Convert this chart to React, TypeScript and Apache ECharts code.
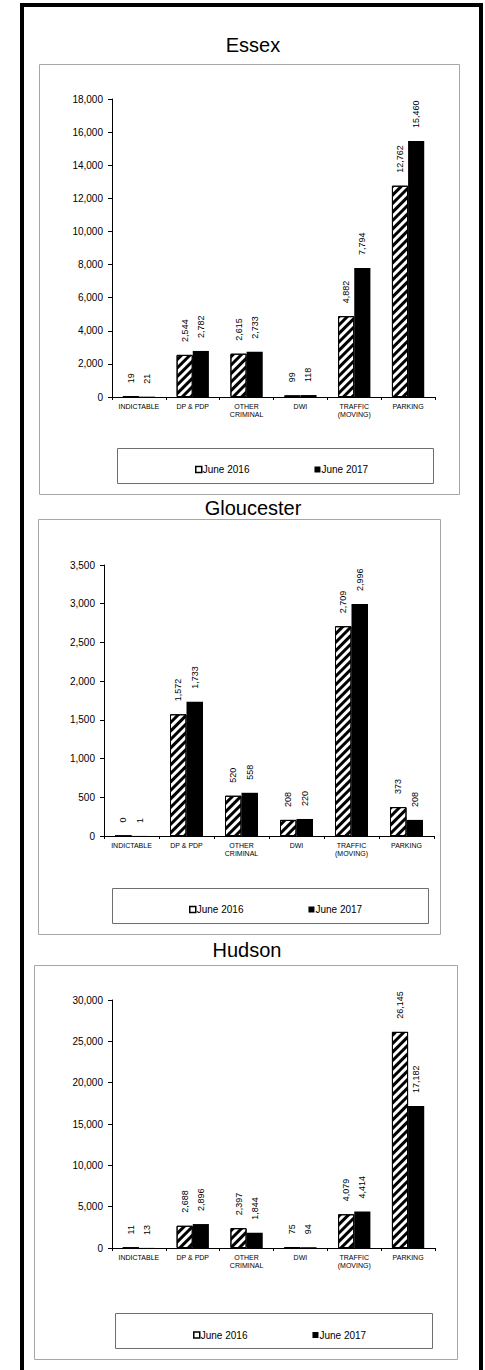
import React, { useEffect, useRef } from "react";
import * as echarts from "echarts";

const categories = ["INDICTABLE", "DP & PDP", "OTHER\nCRIMINAL", "DWI", "TRAFFIC\n(MOVING)", "PARKING"];
const seriesNames = ["June 2016", "June 2017"];

const essex2016 = [19, 2544, 2615, 99, 4882, 12762];
const essex2017 = [21, 2782, 2733, 118, 7794, 15460];
const gloucester2016 = [0, 1572, 520, 208, 2709, 373];
const gloucester2017 = [1, 1733, 558, 220, 2996, 208];
const hudson2016 = [11, 2688, 2397, 75, 4079, 26145];
const hudson2017 = [13, 2896, 1844, 94, 4414, 17182];

const counties = ["Essex", "Gloucester", "Hudson"];
const yMax = [18000, 3500, 30000];
const yInterval = [2000, 500, 5000];

const FONT = "'Liberation Sans', Arial, sans-serif";

const layout = [
  { title: [253, 45], panel: [39, 64, 420, 430], grid: [112, 99, 323, 298], legendBox: [117, 448, 316, 35], legend: [190, 459.5] },
  { title: [253, 508], panel: [38, 519, 402, 415], grid: [104, 565, 330, 271], legendBox: [112, 888, 316, 35], legend: [184, 899.5] },
  { title: [247, 950], panel: [34, 965, 423, 394], grid: [112, 1000, 323, 248], legendBox: [115, 1313, 317, 35], legend: [188, 1325] },
];

const data2016 = [essex2016, gloucester2016, hudson2016];
const data2017 = [essex2017, gloucester2017, hudson2017];

const fmt = (v: number) => v.toLocaleString("en-US");

export default function App() {
  const ref = useRef<HTMLDivElement>(null);
  useEffect(() => {
    if (!ref.current) return;
    const chart = echarts.init(ref.current, undefined, { renderer: "svg" });
    const hatch = {
      symbol: "rect",
      symbolSize: 1,
      dashArrayX: [1, 0],
      dashArrayY: [3, 3],
      rotation: -Math.PI / 4,
      color: "#000",
    };
    const grids: any[] = [];
    const xAxes: any[] = [];
    const yAxes: any[] = [];
    const series: any[] = [];
    const legends: any[] = [];
    const graphics: any[] = [];

    // outer frame
    graphics.push({ type: "line", shape: { x1: 20, y1: 5, x2: 483, y2: 5 }, style: { stroke: "#000", lineWidth: 4 } });
    graphics.push({ type: "line", shape: { x1: 22, y1: 3, x2: 22, y2: 1370 }, style: { stroke: "#000", lineWidth: 4 } });
    graphics.push({ type: "line", shape: { x1: 481, y1: 3, x2: 481, y2: 1370 }, style: { stroke: "#000", lineWidth: 4 } });

    layout.forEach((L, i) => {
      graphics.push({
        type: "rect",
        shape: { x: L.panel[0] + 0.5, y: L.panel[1] + 0.5, width: L.panel[2], height: L.panel[3] },
        style: { fill: "none", stroke: "#a6a6a6", lineWidth: 1 },
      });
      graphics.push({
        type: "rect",
        shape: { x: L.legendBox[0] + 0.5, y: L.legendBox[1] + 0.5, width: L.legendBox[2], height: L.legendBox[3] },
        style: { fill: "none", stroke: "#6e6e6e", lineWidth: 1 },
      });
      graphics.push({
        type: "text",
        x: L.title[0],
        y: L.title[1],
        style: { text: counties[i], font: `normal 400 20px ${FONT}`, fill: "#000", textAlign: "center", textVerticalAlign: "middle" },
      });
      grids.push({ left: L.grid[0], top: L.grid[1], width: L.grid[2], height: L.grid[3] });
      xAxes.push({
        type: "category",
        gridIndex: i,
        data: categories,
        axisLine: { lineStyle: { color: "#000", width: 1 } },
        axisTick: { show: true, length: 3, lineStyle: { color: "#000" } },
        axisLabel: { interval: 0, fontSize: 7, fontFamily: FONT, color: "#000", margin: 5, lineHeight: 8 },
      });
      yAxes.push({
        type: "value",
        gridIndex: i,
        min: 0,
        max: yMax[i],
        interval: yInterval[i],
        axisLine: { show: true, lineStyle: { color: "#000", width: 1 } },
        axisTick: { show: true, length: 4, lineStyle: { color: "#000" } },
        splitLine: { show: false },
        axisLabel: { fontSize: 10, fontFamily: FONT, color: "#000", margin: 9, formatter: (v: number) => fmt(v) },
      });
      const label = {
        show: true,
        position: "top",
        rotate: 90,
        align: "left",
        verticalAlign: "middle",
        distance: 13,
        fontSize: 9,
        fontFamily: FONT,
        color: "#000",
        formatter: (p: any) => fmt(p.value),
      };
      series.push({
        type: "bar",
        name: seriesNames[0],
        xAxisIndex: i,
        yAxisIndex: i,
        data: data2016[i],
        barGap: "0%",
        barCategoryGap: "40%",
        itemStyle: { color: "#fff", borderColor: "#000", borderWidth: 1, decal: hatch },
        label,
      });
      series.push({
        type: "bar",
        name: seriesNames[1],
        xAxisIndex: i,
        yAxisIndex: i,
        data: data2017[i],
        barGap: "0%",
        barCategoryGap: "40%",
        itemStyle: { color: "#000" },
        label,
      });
      legends.push({
        left: L.legend[0],
        top: L.legend[1],
        itemWidth: 6,
        itemHeight: 6,
        itemGap: 65,
        icon: "rect",
        selectedMode: false,
        textStyle: { fontSize: 10, fontFamily: FONT, color: "#000", padding: [0, 0, 0, -4] },
        data: [
          { name: seriesNames[0], itemStyle: { color: "#fff", borderColor: "#000", borderWidth: 1.5, decal: "none" } },
          { name: seriesNames[1], itemStyle: { color: "#000" } },
        ],
      });
    });

    chart.setOption({
      animation: false,
      backgroundColor: "#fff",
      textStyle: { fontFamily: FONT },
      grid: grids,
      xAxis: xAxes,
      yAxis: yAxes,
      series,
      legend: legends,
      graphic: graphics,
    });
    return () => chart.dispose();
  }, []);
  return <div ref={ref} style={{ position: "absolute", left: 0, top: 0, width: 485, height: 1370 }} />;
}
